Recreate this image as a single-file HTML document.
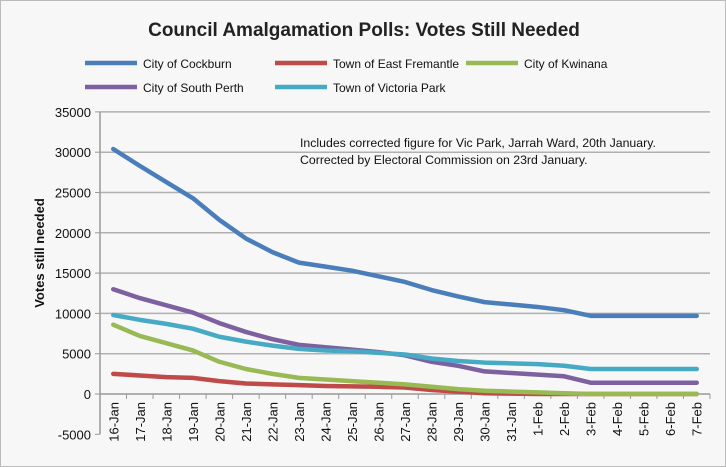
<!DOCTYPE html>
<html><head><meta charset="utf-8"><style>
body{margin:0;background:#fff}
svg{display:block;font-family:"Liberation Sans",sans-serif}
</style></head><body>
<svg width="726" height="467" viewBox="0 0 726 467">
<rect x="0.5" y="0.5" width="725" height="466" fill="#f7f7f7" stroke="#bbb"/>
<text x="364" y="36" text-anchor="middle" font-size="19" font-weight="bold" fill="#222">Council Amalgamation Polls: Votes Still Needed</text>
<g id="legend"></g>
<g id="grid"></g>
<g id="yaxis"></g>
<g id="xaxis"></g>
<g id="series"></g>
<text transform="translate(44,253) rotate(-90)" text-anchor="middle" font-size="13" font-weight="bold" fill="#111">Votes still needed</text>
<text x="300" y="147" font-size="12.3" fill="#111">Includes corrected figure for Vic Park, Jarrah Ward, 20th January.</text>
<text x="300" y="164" font-size="12.3" fill="#111">Corrected by Electoral Commission on 23rd January.</text>
</svg>
<script>
const categories=["16-Jan","17-Jan","18-Jan","19-Jan","20-Jan","21-Jan","22-Jan","23-Jan","24-Jan","25-Jan","26-Jan","27-Jan","28-Jan","29-Jan","30-Jan","31-Jan","1-Feb","2-Feb","3-Feb","4-Feb","5-Feb","6-Feb","7-Feb"];
const yTicks=[-5000,0,5000,10000,15000,20000,25000,30000,35000];
const seriesNames=["City of Cockburn","Town of East Fremantle","City of Kwinana","City of South Perth","Town of Victoria Park"];
const seriesColors=["#4a7ebb","#be4b48","#98b954","#7d60a0","#46aac5"];
const cockburn=[30400,28300,26300,24300,21600,19300,17600,16300,15800,15300,14600,13900,12900,12100,11400,11100,10800,10400,9700,9700,9700,9700,9700];
const eastFremantle=[2500,2300,2100,2000,1600,1300,1200,1100,1000,950,900,800,500,300,100,50,0,0,0,0,0,0,0];
const kwinana=[8600,7200,6300,5400,4000,3100,2500,2000,1800,1600,1400,1200,900,600,400,300,200,100,0,0,0,0,0];
const southPerth=[13000,11900,11000,10100,8800,7700,6800,6100,5800,5500,5200,4800,4000,3500,2800,2600,2400,2200,1400,1400,1400,1400,1400];
const vicPark=[9800,9200,8700,8100,7100,6500,6000,5600,5400,5300,5100,4900,4400,4100,3900,3800,3700,3500,3100,3100,3100,3100,3100];
const allSeries=[cockburn,eastFremantle,kwinana,southPerth,vicPark];
const NS="http://www.w3.org/2000/svg";
const X0=100,X1=710,Y0=394,PX=40.3/5000;
const step=(X1-X0)/categories.length;
const xs=i=>X0+step*(i+0.5);
const ys=v=>Y0-v*PX;
function mk(t,a,p){const e=document.createElementNS(NS,t);for(const k in a)e.setAttribute(k,a[k]);p.appendChild(e);return e;}
const grid=document.getElementById('grid'),ya=document.getElementById('yaxis'),xa=document.getElementById('xaxis'),sg=document.getElementById('series'),lg=document.getElementById('legend');
yTicks.forEach(v=>{
 if(v!==0&&v!==-5000){const l=mk('line',{x1:X0,x2:X1,y1:ys(v),y2:ys(v),stroke:'#b0b0b0','stroke-width':1.5},grid);
 
 }
 const tk=mk('line',{x1:X0-5,x2:X0,y1:ys(v),y2:ys(v),stroke:'#999'},ya);
 
 
 const t=mk('text',{x:X0-9,y:ys(v)+5,'text-anchor':'end','font-size':13,fill:'#111'},ya);t.textContent=v;
 
 
});
mk('line',{x1:X0,x2:X0,y1:ys(35000),y2:ys(-5000),stroke:'#999','stroke-width':1.5},ya);
mk('line',{x1:X0,x2:X1,y1:Y0,y2:Y0,stroke:'#999','stroke-width':1.5},xa);
categories.forEach((c,i)=>{
 const x=X0+step*i;
 const tk=mk('line',{x1:x,x2:x,y1:Y0,y2:Y0+5,stroke:'#999'},xa);
 
 
 const t=mk('text',{transform:`translate(${xs(i)+5},${Y0+8}) rotate(-90)`,'text-anchor':'end','font-size':13,fill:'#111'},xa);t.textContent=c;
 
 
});
mk('line',{x1:X1,x2:X1,y1:Y0,y2:Y0+5,stroke:'#999'},xa);
allSeries.forEach((s,k)=>{
 const p=mk('polyline',{points:s.map((v,i)=>xs(i)+','+ys(v)).join(' '),fill:'none',stroke:seriesColors[k],'stroke-width':4.5,'stroke-linejoin':'round','stroke-linecap':'round'},sg);
 
 
});
const legPos=[[85,63],[275,63],[466,63],[85,87],[275,87]];
seriesNames.forEach((n,k)=>{
 const [x,y]=legPos[k];
 const g=mk('g',{},lg);
 
 
 mk('line',{x1:x,x2:x+52,y1:y,y2:y,stroke:seriesColors[k],'stroke-width':4.5},g);
 const t=mk('text',{x:x+58,y:y+5,'font-size':12,fill:'#111'},g);t.textContent=n;
});
</script>
</body></html>
